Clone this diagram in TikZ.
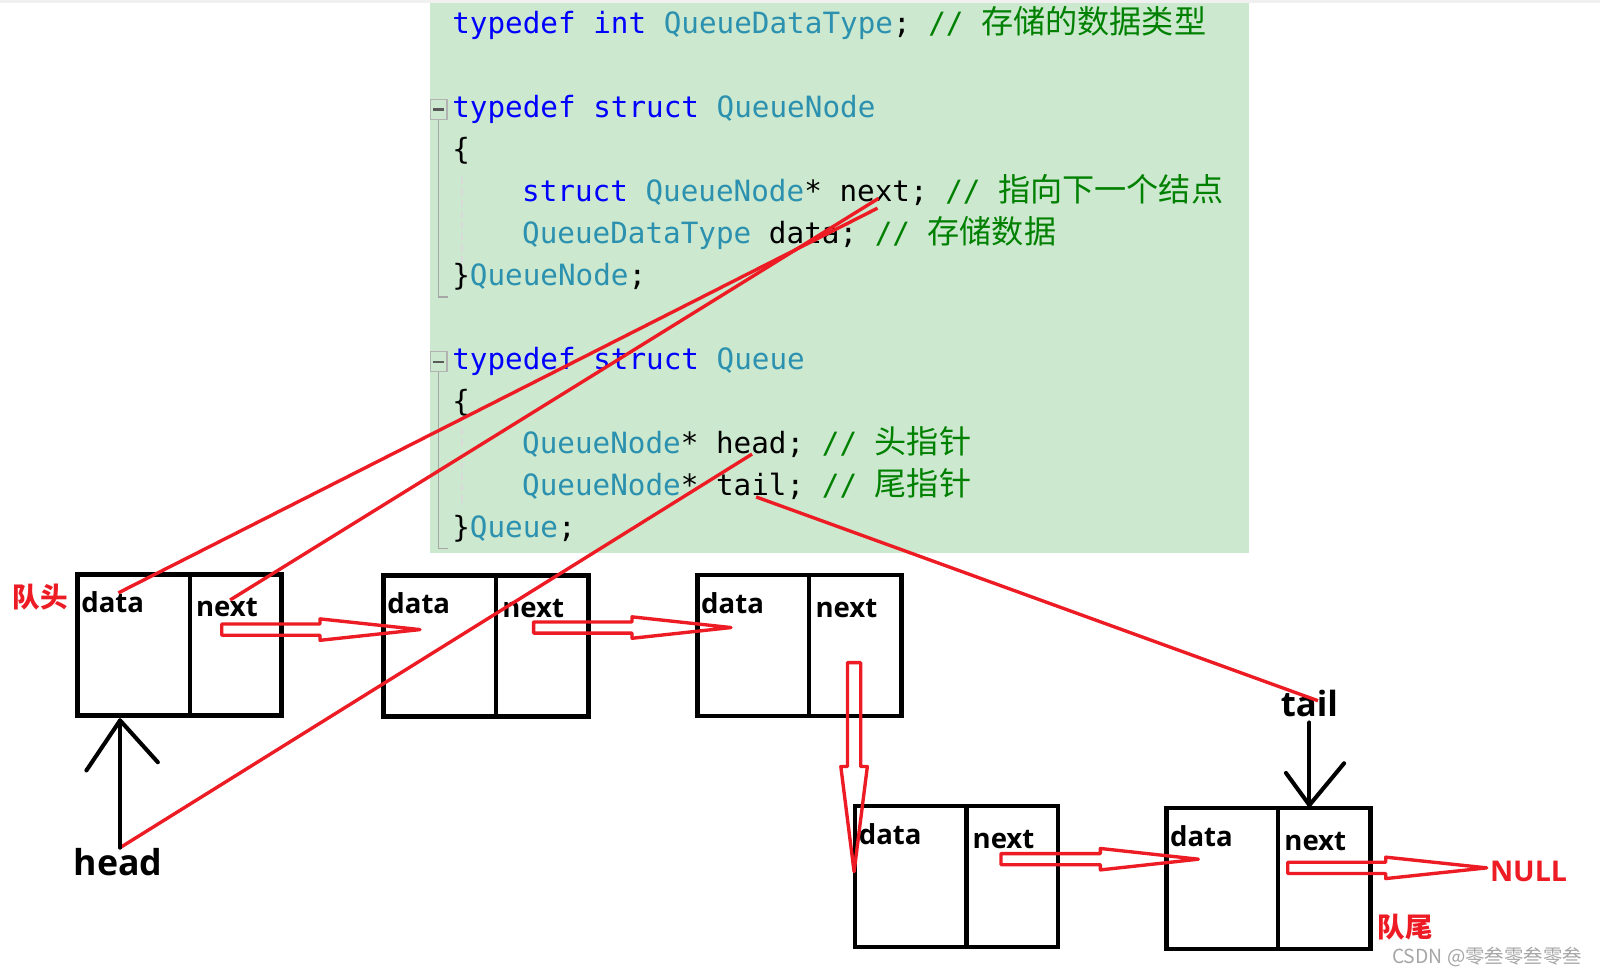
\documentclass[tikz,border=0pt]{standalone}
\usepackage{fontspec}
\setmainfont{Open Sans}
\newfontfamily\codefont{DejaVu Sans Mono}
\newfontfamily\cjk{Noto Sans CJK SC}
\usetikzlibrary{calc}
\definecolor{kw}{RGB}{0,0,255}
\definecolor{ty}{RGB}{43,145,175}
\definecolor{cm}{RGB}{0,128,0}
\definecolor{bg}{RGB}{204,232,207}
\definecolor{pred}{RGB}{237,28,36}
\newcommand\cmt[1]{{\cjk\fontsize{31.5}{31.5}\selectfont #1}}
\newcommand\qbox[5]{%
  \node[cell, minimum width=#4pt] (#1d) at (#2,#3) {};
  \node[cell, minimum width=#5pt] (#1n) at (#1d.north east) {};
  \node[lbl] (#1dl) at ($(#1d.north west)+(3.5,37.5)$) {data};
  \node[lbl] (#1nl) at ($(#1n.north west)+(6,41.5)$) {next};
}
\newcommand\harrow[3]{%
  \draw[hollow] let \p1=(#1), \p2=(#2) in
   (\x1,\y1+5.5pt) -- (\x2-#3pt,\y1+5.5pt) -- (\x2-#3pt,\y1+10.5pt) -- (\x2,\y2)
   -- (\x2-#3pt,\y1-10.5pt) -- (\x2-#3pt,\y1-5.5pt) -- (\x1,\y1-5.5pt) -- cycle;}
\newcommand\varrow[3]{%
  \draw[hollow] let \p1=(#1), \p2=(#2) in
   (\x1-6.5pt,\y1) -- (\x1-6.5pt,\y2+#3pt) -- (\x1-13pt,\y2+#3pt) -- (\x2,\y2)
   -- (\x1+13pt,\y2+#3pt) -- (\x1+6.5pt,\y2+#3pt) -- (\x1+6.5pt,\y1) -- cycle;}
\tikzset{
  cell/.style={draw=black, line width=4.5pt, minimum height=138pt, inner sep=0, outer sep=0, anchor=north west},
  lbl/.style={font=\bfseries\fontsize{27}{27}\selectfont, inner sep=0, anchor=base west},
  code/.style={font=\codefont\fontsize{28.7}{34}\selectfont, inner sep=0, anchor=base west},
  hollow/.style={draw=pred, line width=3.3pt, line join=round},
  redline/.style={draw=pred, line width=3.3pt},
  blk/.style={draw=black, line width=4pt, line cap=round, line join=round},
  foldbox/.style={draw=gray!60, line width=1.3pt},
  foldline/.style={draw=gray!70, line width=1.6pt},
  guide/.style={draw=gray!30, line width=1.5pt, dash pattern=on 7pt off 4pt},
}
\begin{document}
\begin{tikzpicture}[x=1pt,y=-1pt]
\useasboundingbox (0,0) rectangle (1568,956);
\fill[white] (0,0) rectangle (1568,956);
\fill[gray!12] (0,0) rectangle (1568,2.5);
\fill[bg] (421.4,3.3) rectangle (1223.7,542);

% fold markers
\draw[foldbox] (421.8,97.5) rectangle (438,117);
\draw[black!65, line width=2pt] (424.5,107.3) -- (435,107.3);
\draw[foldline] (429.6,118) -- (429.6,290.8) -- (439.4,290.8);
\draw[guide] (452.5,173.6) -- (452.5,264.6);
\draw[foldbox] (421.8,344.5) rectangle (438,364);
\draw[black!65, line width=2pt] (424.5,354.3) -- (435,354.3);
\draw[foldline] (429.6,365) -- (429.6,537.5) -- (439.4,537.5);
\draw[guide] (452.5,419.5) -- (452.5,497);

% code
\node[code] (c1) at (443,32.7) {\textcolor{kw}{typedef int} \textcolor{ty}{QueueDataType}; \textcolor{cm}{// \cmt{存储的数据类型}}};
\node[code] (c2) at (443,115.1) {\textcolor{kw}{typedef struct} \textcolor{ty}{QueueNode}};
\node[code] (c3) at (443,156.3) {\{};
\node[code] (c4) at (511.5,197.5) {\textcolor{kw}{struct} \textcolor{ty}{QueueNode}* next; \textcolor{cm}{// \cmt{指向下一个结点}}};
\node[code] (c5) at (511.5,238.7) {\textcolor{ty}{QueueDataType} data; \textcolor{cm}{// \cmt{存储数据}}};
\node[code] (c6) at (443,279.9) {\}\textcolor{ty}{QueueNode};};
\node[code] (c7) at (443,362.3) {\textcolor{kw}{typedef struct} \textcolor{ty}{Queue}};
\node[code] (c8) at (443,403.5) {\{};
\node[code] (c9) at (511.5,444.7) {\textcolor{ty}{QueueNode}* head; \textcolor{cm}{// \cmt{头指针}}};
\node[code] (c10) at (511.5,485.9) {\textcolor{ty}{QueueNode}* tail; \textcolor{cm}{// \cmt{尾指针}}};
\node[code] (c11) at (443,527.1) {\}\textcolor{ty}{Queue};};

% boxes
\qbox{b1}{76}{563}{110}{90}
\qbox{b2}{376}{564}{110}{91}
\qbox{b3}{683.5}{563.5}{109.5}{90.5}
\qbox{b4}{838}{790}{109}{90}
\qbox{b5}{1143}{792}{109.5}{90.5}

% labels
\node[font=\cjk\bfseries\fontsize{27}{27}\selectfont, text=pred, anchor=west, inner sep=0] (qhead) at (12,585.5) {队头};
\node[font=\cjk\bfseries\fontsize{27}{27}\selectfont, text=pred, anchor=west, inner sep=0] (qtail) at (1350,909) {队尾};
\node[font=\bfseries\fontsize{35}{35}\selectfont, inner sep=0, anchor=base west] (headlbl) at (72,857.5) {head};
\node[font=\bfseries\fontsize{34}{34}\selectfont, inner sep=0, anchor=base west] (taillbl) at (1255,702) {tail};
\node[font=\bfseries\fontsize{28}{28}\selectfont, text=pred, inner sep=0, anchor=base west] (nulllbl) at (1460,864) {NULL};
\node[font=\cjk\fontsize{19}{19}\selectfont, text=black!35, anchor=west, inner sep=0] (wm) at (1364,938) {CSDN @零叁零叁零叁};

% hollow block arrows
\coordinate (a1s) at (217.3,617);  \coordinate (a1e) at (411.6,617);
\coordinate (a2s) at (523,615);    \coordinate (a2e) at (716.4,615);
\coordinate (a3s) at (837,649.4);  \coordinate (a3e) at (837,854.2);
\coordinate (a4s) at (981,842);    \coordinate (a4e) at (1174.4,842);
\coordinate (a5s) at (1262,850.5); \coordinate (a5e) at (1457,850.5);
\harrow{a1s}{a1e}{98}
\harrow{a2s}{a2e}{97}
\varrow{a3s}{a3e}{103}
\harrow{a4s}{a4e}{96}
\harrow{a5s}{a5e}{99}

% red pointer lines
\coordinate (b1dpt) at (116,581);
\coordinate (b1npt) at (225.5,588);
\coordinate (cnextA) at (860,204);
\coordinate (cnext) at (861,194.4);
\coordinate (chead) at (737,445);
\coordinate (ctail) at (741,487);
\coordinate (tailpt) at (1291.6,686.7);
\coordinate (hbase) at ($(headlbl.north)+(2,0)$);
\draw[redline] (b1dpt) -- (cnextA);
\draw[redline] (b1npt) -- (cnext);
\draw[redline] (hbase) -- (chead);
\draw[redline] (ctail) -- (tailpt);

% black arrows
\coordinate (htip) at ($(hbase |- b1d.south)+(0,5)$);
\draw[blk] (hbase) -- (htip);
\draw[blk] ($(htip)+(-33,49)$) -- (htip) -- ($(htip)+(37,41)$);
\coordinate (ttip) at ($(taillbl.south |- b5n.north)+(0,-3)$);
\draw[blk] ($(taillbl.south)+(0,5.5)$) -- (ttip);
\draw[blk] ($(ttip)+(-23,-31.5)$) -- (ttip) -- ($(ttip)+(34,-41)$);
\end{tikzpicture}
\end{document}
